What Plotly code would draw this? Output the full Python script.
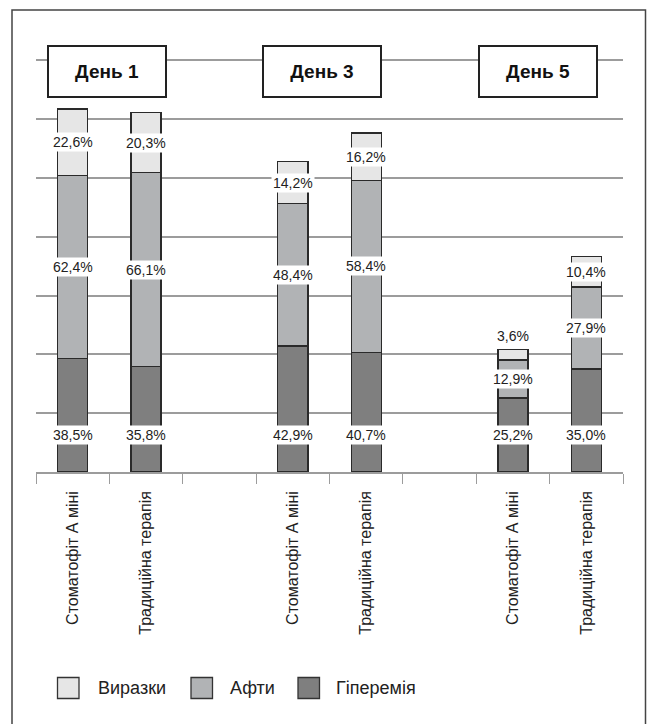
import plotly.graph_objects as go

# ---------------- data ----------------
categories = ["Стоматофіт А міні", "Традиційна терапія", "",
              "Стоматофіт А міні", "Традиційна терапія", "",
              "Стоматофіт А міні", "Традиційна терапія"]
days = ["День 1", "День 3", "День 5"]
series_names = ["Виразки", "Афти", "Гіперемія"]
hyperemia = [38.5, 35.8, None, 42.9, 40.7, None, 25.2, 35.0]
afty = [62.4, 66.1, None, 48.4, 58.4, None, 12.9, 27.9]
vyrazky = [22.6, 20.3, None, 14.2, 16.2, None, 3.6, 10.4]

# ---------------- styling ----------------
W, H = 647, 724
ML, MR, MT, MB = 36, 24, 31, 252
PW, PH = W - ML - MR, H - MT - MB
colors = {"Виразки": "#e6e6e6", "Афти": "#b1b3b5", "Гіперемія": "#7f7f7f"}
edge = "#2a2a2a"
grid = "#9c9c9c"
FONT = "Liberation Sans, Arial, Helvetica, sans-serif"

def px_x(px):
    return (px - ML) / PW

def px_y(py):
    return 1 - (py - MT) / PH

xs = list(range(len(categories)))
fig = go.Figure()
for name, vals in [("Гіперемія", hyperemia), ("Афти", afty), ("Виразки", vyrazky)]:
    fig.add_trace(go.Bar(
        x=xs, y=vals, name=name, width=0.41,
        marker=dict(color=colors[name], line=dict(color=edge, width=1.3)),
        showlegend=False, hoverinfo="skip"))

def fmt(v):
    return f"{v:.1f}".replace(".", ",") + "%"

ann = []
lab_font = dict(family=FONT, size=14, color="#222")
for i in xs:
    h, a, v = hyperemia[i], afty[i], vyrazky[i]
    if h is None:
        continue
    ann.append(dict(x=i, y=12.5, text=fmt(h), showarrow=False, font=lab_font,
                    bgcolor="white", borderpad=1, xref="x", yref="y"))
    ann.append(dict(x=i, y=h + a / 2, text=fmt(a), showarrow=False, font=lab_font,
                    bgcolor="white", borderpad=1, xref="x", yref="y"))
    if v >= 6:
        ann.append(dict(x=i, y=h + a + v / 2, text=fmt(v), showarrow=False, font=lab_font,
                        bgcolor="white", borderpad=1, xref="x", yref="y"))
    else:
        ann.append(dict(x=i, y=h + a + v, yanchor="bottom", yshift=3, text=fmt(v),
                        showarrow=False, font=lab_font, bgcolor="white", borderpad=1,
                        xref="x", yref="y"))

# day header boxes
for k, d in enumerate(days):
    cx = 107.2 + k * 215.25
    ann.append(dict(x=px_x(cx), y=px_y(72), xref="paper", yref="paper", text=f"<b>{d}</b>",
                    showarrow=False, font=dict(family=FONT, size=19, color="#111"),
                    bgcolor="white", bordercolor="#222", borderwidth=2, borderpad=0,
                    width=116, height=49, xanchor="center", yanchor="middle"))

# custom legend
shapes = []
sw_x = [57.5, 191, 298]
tx_x = [96, 228, 334]
for k, name in enumerate(series_names):
    shapes.append(dict(type="rect", xref="paper", yref="paper",
                       x0=px_x(sw_x[k]), x1=px_x(sw_x[k] + 21.5),
                       y0=px_y(677.5), y1=px_y(698.5),
                       fillcolor=colors[name], line=dict(color="#333", width=1.3)))
    ann.append(dict(x=px_x(tx_x[k]), y=px_y(688), xref="paper", yref="paper", text=name,
                    showarrow=False, xanchor="left", yanchor="middle",
                    font=dict(family=FONT, size=18, color="#222")))

# outer frame
shapes.append(dict(type="rect", xref="paper", yref="paper",
                   x0=px_x(12), x1=px_x(645.5), y0=px_y(735), y1=px_y(10),
                   line=dict(color="#444", width=1.5), fillcolor="rgba(0,0,0,0)", layer="above"))

fig.update_layout(
    width=W, height=H,
    margin=dict(l=ML, r=MR, t=MT, b=MB, pad=0),
    paper_bgcolor="white", plot_bgcolor="white",
    barmode="stack", showlegend=False,
    annotations=ann, shapes=shapes,
    font=dict(family=FONT, color="#222"),
    xaxis=dict(range=[-0.5, len(categories) - 0.5], tickmode="array",
               tickvals=[i for i in xs if categories[i]],
               ticktext=[c for c in categories if c],
               tickangle=-90, ticks="", ticklabelstandoff=11,
               tickfont=dict(family=FONT, size=16, color="#222"),
               showline=True, linecolor=grid, linewidth=1.5, showgrid=False, zeroline=False,
               minor=dict(tickmode="array", tickvals=[i - 0.5 for i in range(len(categories) + 1)],
                          ticks="outside", ticklen=10, tickcolor=grid, tickwidth=1.3, showgrid=False)),
    yaxis=dict(range=[0, 150], tick0=0, dtick=20, showticklabels=False, ticks="",
               showgrid=True, gridcolor=grid, gridwidth=1.5, zeroline=False, showline=False),
)

fig.write_html("out.html", config={"displayModeBar": False},
               post_script="document.body.style.margin='0';")
